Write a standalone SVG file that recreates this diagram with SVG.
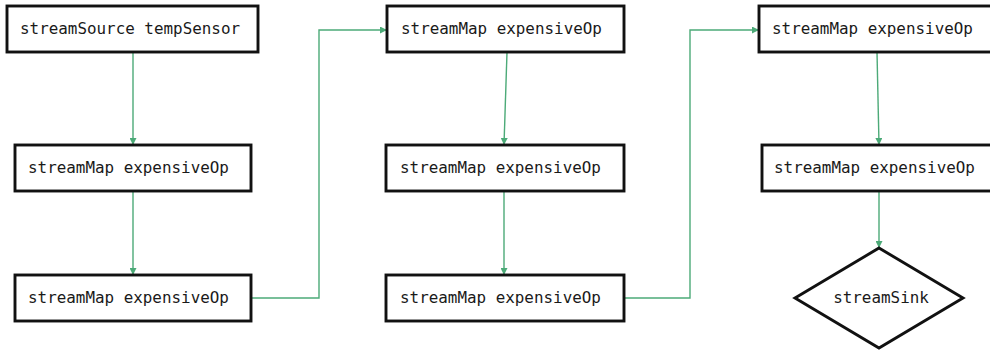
<svg xmlns="http://www.w3.org/2000/svg" width="990" height="350" viewBox="0 0 990 350">
  <style>
    .box { fill: #ffffff; stroke: #111111; stroke-width: 2.9; }
    .lbl { font-family: "DejaVu Sans Mono", "Liberation Mono", monospace; font-size: 15.9px; fill: #1a1a1a; }
    .edge { fill: none; stroke: #4caa78; stroke-width: 1.4; }
  </style>
  <defs>
    <marker id="arrow" viewBox="0 0 10 10" refX="10" refY="5" markerWidth="7" markerHeight="7" markerUnits="userSpaceOnUse" orient="auto">
      <path d="M0,0 L10,5 L0,10 z" fill="#4caa78"/>
    </marker>
  </defs>
  <rect width="990" height="350" fill="#ffffff"/>

  <g id="connectors">
    <path class="edge" d="M133,52 L133,145" marker-end="url(#arrow)"/>
    <path class="edge" d="M133,191 L133,275" marker-end="url(#arrow)"/>
    <path class="edge" d="M251,298 L319,298 L319,30 L387,30" marker-end="url(#arrow)"/>
    <path class="edge" d="M507,52 L504,145" marker-end="url(#arrow)"/>
    <path class="edge" d="M504,191 L504,275" marker-end="url(#arrow)"/>
    <path class="edge" d="M624,298 L690,298 L690,30 L759,30" marker-end="url(#arrow)"/>
    <path class="edge" d="M877,52 L879,145" marker-end="url(#arrow)"/>
    <path class="edge" d="M879,191 L879,248" marker-end="url(#arrow)"/>
  </g>

  <g id="source">
    <rect class="box" x="7" y="6" width="251" height="46"/>
    <text class="lbl" x="20" y="34">streamSource tempSensor</text>
  </g>
  <g id="map1">
    <rect class="box" x="15" y="145" width="236" height="46"/>
    <text class="lbl" x="28" y="173">streamMap expensiveOp</text>
  </g>
  <g id="map2">
    <rect class="box" x="15" y="275" width="236" height="46"/>
    <text class="lbl" x="28" y="303">streamMap expensiveOp</text>
  </g>
  <g id="map3">
    <rect class="box" x="387" y="6" width="237" height="46"/>
    <text class="lbl" x="401" y="34">streamMap expensiveOp</text>
  </g>
  <g id="map4">
    <rect class="box" x="386" y="145" width="238" height="46"/>
    <text class="lbl" x="400" y="173">streamMap expensiveOp</text>
  </g>
  <g id="map5">
    <rect class="box" x="386" y="275" width="238" height="46"/>
    <text class="lbl" x="400" y="303">streamMap expensiveOp</text>
  </g>
  <g id="map6">
    <rect class="box" x="759" y="6" width="237" height="46"/>
    <text class="lbl" x="772" y="34">streamMap expensiveOp</text>
  </g>
  <g id="map7">
    <rect class="box" x="762" y="145" width="236" height="46"/>
    <text class="lbl" x="774" y="173">streamMap expensiveOp</text>
  </g>
  <g id="sink">
    <polygon class="box" points="879,248 963,298 879,348 795,298"/>
    <text class="lbl" x="881" y="303" text-anchor="middle">streamSink</text>
  </g>
</svg>
